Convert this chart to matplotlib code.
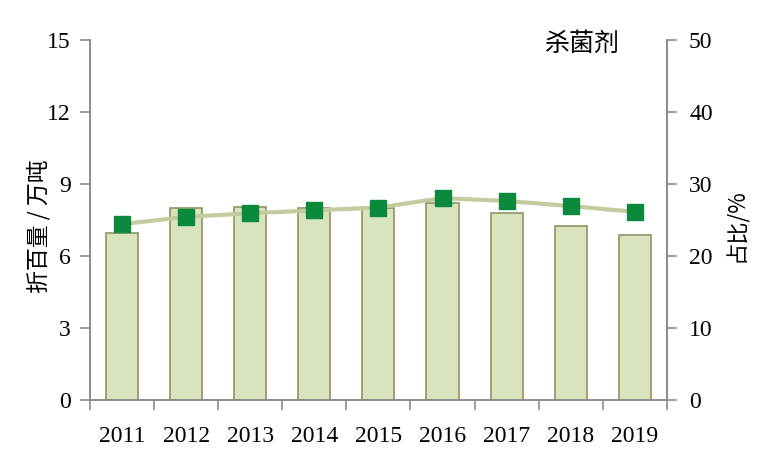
import matplotlib.pyplot as plt
import numpy as np

years = ['2011', '2012', '2013', '2014', '2015', '2016', '2017', '2018', '2019']
amount = [6.94, 8.0, 8.02, 7.98, 7.97, 8.18, 7.8, 7.25, 6.87]      # 折百量 / 万吨
share = [24.4, 25.4, 25.9, 26.3, 26.7, 28.0, 27.6, 26.9, 26.1]      # 占比 / %

cjk = ['Noto Sans CJK SC', 'DejaVu Sans']
serif = 'Liberation Serif'
spine_c = '#8c8c8c'

fig = plt.figure(figsize=(7.64, 4.61), dpi=100)
ax = fig.add_axes([0.1178, 0.1323, 0.755, 0.782])
x = np.arange(len(years))

ax.bar(x, amount, width=0.5, color='#d7e4bd', edgecolor='#8f9460', linewidth=1.2, zorder=2)
ax.set_xlim(-0.5, len(years) - 0.5)
ax.set_ylim(0, 15)
ax.set_yticks([0, 3, 6, 9, 12, 15])
ax.set_xticks(x)
ax.set_xticklabels(years, fontfamily=serif, fontsize=17)
ax.set_xticks(np.arange(-0.5, len(years), 1), minor=True)
ax.tick_params(axis='x', which='major', length=0, pad=19)
ax.tick_params(axis='x', which='minor', length=7, color=spine_c, width=1.2, direction='out')
ax.tick_params(axis='y', length=7, color=spine_c, width=1.2, direction='out', pad=7, labelsize=17)
for lab in ax.get_yticklabels():
    lab.set_fontfamily(serif)
ax.set_ylabel('折百量 / 万吨', fontfamily=cjk, fontsize=16.5)
ax.yaxis.set_label_coords(-0.069, 0.483)

ax2 = ax.twinx()
ax2.plot(x, share, color='#c5cb9e', linewidth=3, marker='s', markersize=11,
         markerfacecolor='#0b8a3e', markeredgecolor='#0b8a3e', zorder=3)
ax2.set_ylim(0, 50)
ax2.set_yticks([0, 10, 20, 30, 40, 50])
ax2.tick_params(axis='y', length=7, color=spine_c, width=1.2, direction='out', pad=9, labelsize=17)
for lab in ax2.get_yticklabels():
    lab.set_fontfamily(serif)
ax2.set_ylabel('占比/%', fontfamily=cjk, fontsize=16, rotation=90)
ax2.yaxis.set_label_coords(1.1005, 0.485)

for a in (ax, ax2):
    a.spines['top'].set_visible(False)
    for s in ('left', 'right', 'bottom'):
        a.spines[s].set_color(spine_c)
        a.spines[s].set_linewidth(1.2)

ax2.text(0.854, 0.989, '杀菌剂', transform=ax.transAxes, fontfamily=cjk, fontsize=18,
         ha='center', va='center')

fig.savefig('out.png', dpi=100)
